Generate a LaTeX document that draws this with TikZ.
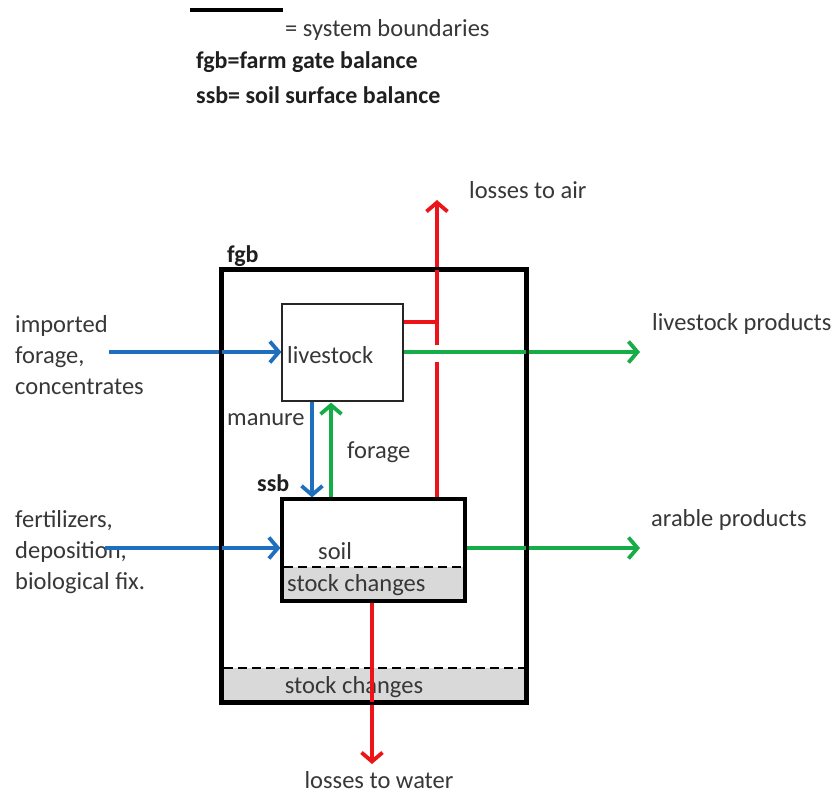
\documentclass[tikz,border=0pt]{standalone}
\usepackage{fontspec}
\setmainfont{Carlito}
\usetikzlibrary{arrows.meta}
\definecolor{ablue}{RGB}{30,112,190}
\definecolor{agreen}{RGB}{22,172,72}
\definecolor{ared}{RGB}{236,20,24}
\definecolor{sgray}{RGB}{217,217,217}
\definecolor{txt}{RGB}{55,55,55}
\begin{document}
\begin{tikzpicture}[x=1pt,y=-1pt,
  font=\fontsize{24.5}{31}\selectfont, text=txt,
  lbl/.style={inner sep=0pt, anchor=west},
  blbl/.style={inner sep=0pt, anchor=west, font=\fontsize{24}{31}\selectfont\bfseries, text=black!88},
  boxthin/.style={draw=black!85, line width=1.2pt, inner sep=0pt},
  boxthick/.style={draw=black, line width=3.2pt, inner sep=0pt},
  flow/.style={line width=3.8pt, -{Straight Barb[length=9pt,width=21pt]}},
  plainflow/.style={line width=3.8pt},
  dashline/.style={dash pattern=on 9pt off 5pt, line width=2.2pt}]
\useasboundingbox (0,0) rectangle (833,796);

% legend
\coordinate (lg1) at (190,10);
\coordinate (lg2) at (283,10);
\draw[line width=3.5pt] (lg1) -- (lg2);
\node[lbl] (lgt) at (285,30) {= system boundaries};
\node[blbl] (lgf) at (196,62) {fgb=farm gate balance};
\node[blbl] (lgs) at (196,95) {ssb= soil surface balance};

% outer fgb box
\fill[sgray] (222,668) rectangle (526,702);
\node[minimum width=304pt, minimum height=432pt, boxthick] (fgb) at (374,486) {};
\coordinate (fd1) at (224,668);
\coordinate (fd2) at (524,668);
\draw[dashline] (fd1) -- (fd2);
\node[inner sep=0pt] (fgbsc) at (354,687) {stock changes};
\node[blbl] (fgblbl) at (227,256) {fgb};

% livestock box
\node[minimum width=121pt, minimum height=97pt, boxthin, fill=white] (live) at (342.5,352.5) {};
\node[lbl] (livet) at (287,355) {livestock};

% soil box
\fill[sgray] (282,567) rectangle (465,601);
\node[minimum width=183pt, minimum height=102pt, boxthick] (soil) at (373.5,550) {};
\coordinate (sd1) at (284,567);
\coordinate (sd2) at (463,567);
\draw[dashline] (sd1) -- (sd2);
\node[lbl] (soilt) at (318,551) {soil};
\node[lbl] (soilsc) at (287,585) {stock changes};
\node[blbl] (ssblbl) at (257,483) {ssb};

% inputs
\node[lbl, align=left] (imp) at (15,355) {imported\\forage,\\concentrates};
\coordinate (impS) at (109,352);
\draw[flow, ablue] (impS) -- (live.west |- impS);

\node[lbl, align=left] (fert) at (15,552) {fertilizers,\\deposition,\\biological fix.};
\coordinate (fertS) at (105,548);
\draw[flow, ablue] (fertS) -- (soil.west |- fertS);

% manure / forage
\coordinate (manX) at (312,0);
\coordinate (forX) at (331,0);
\draw[flow, ablue] (live.south -| manX) -- (soil.north -| manX);
\draw[flow, agreen] (soil.north -| forX) -- ([yshift=-1pt]live.south -| forX);
\node[lbl] (mant) at (227,420) {manure};
\node[lbl] (fort) at (347,452) {forage};

% outputs
\coordinate (lpE) at (640,352);
\draw[flow, agreen] (live.east |- lpE) -- (lpE);
\node[lbl] (lpt) at (652,324) {livestock products};
\coordinate (apE) at (640,548);
\draw[flow, agreen] (soil.east |- apE) -- (apE);
\node[lbl] (apt) at (651,520) {arable products};

% losses to air
\coordinate (airT) at (437,200);
\coordinate (airG1) at (437,345);
\coordinate (airG2) at (437,362);
\coordinate (airJ) at (437,322);
\draw[plainflow, ared] (soil.north -| airG2) -- (airG2);
\draw[flow, ared] (airG1) -- (airT);
\draw[plainflow, ared] (live.east |- airJ) -- (airJ);
\node[lbl] (airt) at (469,190) {losses to air};

% losses to water
\coordinate (watX) at (372,0);
\coordinate (watT) at (372,764);
\draw[flow, ared] (soil.south -| watX) -- (watT);
\node[inner sep=0pt, anchor=base] (watt) at (379,788) {losses to water};

% redraw box borders over flows
\draw[boxthick] (fgb.north west) rectangle (fgb.south east);
\end{tikzpicture}
\end{document}
